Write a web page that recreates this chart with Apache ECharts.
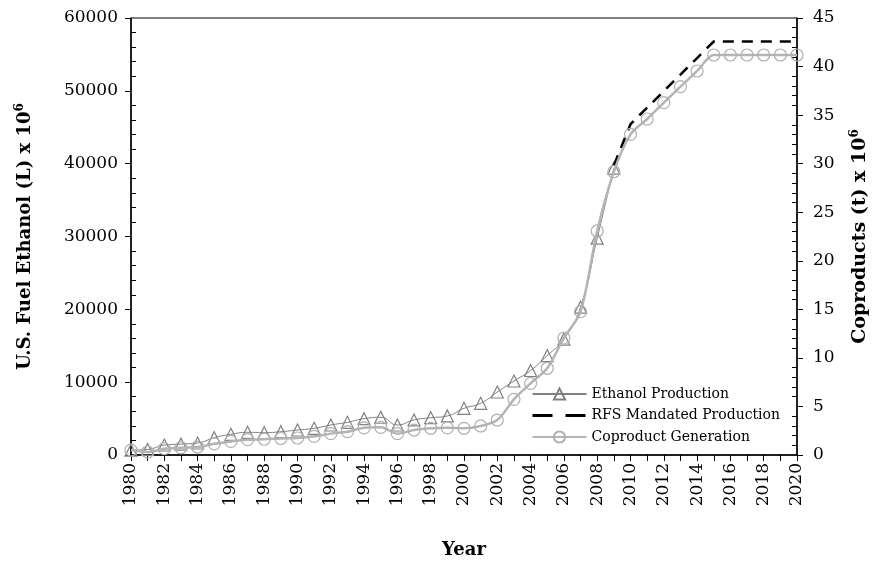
<!DOCTYPE html>
<html>
<head>
<meta charset="utf-8">
<script src="https://cdn.jsdelivr.net/npm/echarts@6/dist/echarts.min.js"></script>
<style>
  html, body { margin: 0; padding: 0; background: #fff; }
  #chart { width: 880px; height: 561px; }
</style>
</head>
<body>
<div id="chart"></div>
<script>
// U.S. fuel ethanol output (million litres) and coproducts (million tonnes)
const ethanolYears = [1980, 1981, 1982, 1983, 1984, 1985, 1986, 1987, 1988, 1989,
  1990, 1991, 1992, 1993, 1994, 1995, 1996, 1997, 1998, 1999,
  2000, 2001, 2002, 2003, 2004, 2005, 2006, 2007, 2008, 2009];
const ethanolProduction = [660, 760, 1370, 1500, 1650, 2380, 2840, 3120, 3060, 3200,
  3430, 3660, 4120, 4490, 4990, 5180, 4120, 4810, 5120, 5360,
  6410, 7100, 8650, 10160, 11600, 13650, 15900, 20300, 29770, 39380];

const rfsYears = [2009, 2010, 2011, 2012, 2013, 2014, 2015, 2016, 2017, 2018, 2019, 2020];
const rfsMandate = [39743, 45420, 47691, 49962, 52233, 54504, 56775, 56775, 56775, 56775, 56775, 56775];

const coproductYears = [1980, 1981, 1982, 1983, 1984, 1985, 1986, 1987, 1988, 1989,
  1990, 1991, 1992, 1993, 1994, 1995, 1996, 1997, 1998, 1999,
  2000, 2001, 2002, 2003, 2004, 2005, 2006, 2007, 2008, 2009,
  2010, 2011, 2012, 2013, 2014, 2015, 2016, 2017, 2018, 2019, 2020];
const coproductGeneration = [0.51, 0.31, 0.65, 0.75, 0.82, 1.15, 1.40, 1.58, 1.62, 1.70,
  1.75, 1.92, 2.20, 2.40, 2.80, 2.85, 2.20, 2.57, 2.75, 2.80,
  2.75, 2.99, 3.60, 5.73, 7.38, 8.93, 12.05, 14.76, 23.07, 29.17,
  33.02, 34.60, 36.28, 37.93, 39.54, 41.19, 41.19, 41.19, 41.19, 41.19, 41.19];

const seriesNames = ['Ethanol Production', 'RFS Mandated Production', 'Coproduct Generation'];

const FONT = 'DejaVu Serif';
const pairs = (xs, ys) => xs.map((x, i) => [x, ys[i]]);

const titleStyle = (size) => ({
  fontFamily: FONT, fontWeight: 'bold', fontSize: size, color: '#000',
  rich: {
    t: { fontFamily: FONT, fontWeight: 'bold', fontSize: size, color: '#000', lineHeight: 22 },
    s: { fontFamily: FONT, fontWeight: 'bold', fontSize: 12, color: '#000', lineHeight: 12, verticalAlign: 'top' }
  }
});
const tickText = { fontFamily: FONT, fontSize: 17, color: '#000' };
const blackLine = { color: '#000', width: 1 };
const clear = 'rgba(255,255,255,0)';

const chart = echarts.init(document.getElementById('chart'), null, { renderer: 'canvas' });

chart.setOption({
  animation: false,
  backgroundColor: '#fff',
  grid: {
    left: 131, right: 83, top: 18, bottom: 106,
    show: true, borderColor: '#000', borderWidth: 1, backgroundColor: 'transparent',
    outerBoundsMode: 'none', containLabel: false
  },
  legend: {
    orient: 'vertical', left: 531, top: 387, padding: 0,
    itemGap: 7.5, itemWidth: 54, itemHeight: 14,
    textStyle: { fontFamily: FONT, fontSize: 14, color: '#000' },
    data: [
      { name: seriesNames[0] },
      { name: seriesNames[1], itemStyle: { color: clear, borderWidth: 0 },
        lineStyle: { color: '#000', width: 3, type: [20, 13] } },
      { name: seriesNames[2] }
    ]
  },
  xAxis: {
    type: 'value', min: 1980, max: 2020, interval: 2,
    name: 'Year', nameLocation: 'middle', nameGap: 86,
    nameTextStyle: { fontFamily: FONT, fontWeight: 'bold', fontSize: 18, color: '#000' },
    axisLine: { show: true, lineStyle: { color: '#000', width: 1.5 } },
    axisTick: { show: true, length: 6, lineStyle: blackLine },
    minorTick: { show: true, splitNumber: 2, length: 6, lineStyle: blackLine },
    splitLine: { show: false },
    axisLabel: Object.assign({ rotate: 90, margin: 8, formatter: v => String(v) }, tickText)
  },
  yAxis: [
    {
      type: 'value', position: 'left', min: 0, max: 60000, interval: 10000,
      name: '{t|U.S. Fuel Ethanol (L) x 10}{s|6}', nameLocation: 'middle', nameGap: 95, nameRotate: 90,
      nameTextStyle: titleStyle(18),
      axisLine: { show: true, lineStyle: { color: '#000', width: 1.5 } },
      axisTick: { show: true, length: 6, lineStyle: blackLine },
      minorTick: { show: true, splitNumber: 5, length: -5, lineStyle: blackLine },
      splitLine: { show: false },
      axisLabel: Object.assign({ margin: 13, formatter: v => String(v) }, tickText)
    },
    {
      type: 'value', position: 'right', min: 0, max: 45, interval: 5,
      name: '{t|Coproducts (t) x 10}{s|6}', nameLocation: 'middle', nameGap: 52, nameRotate: 90,
      nameTextStyle: titleStyle(19),
      axisLine: { show: true, lineStyle: { color: '#000', width: 1.5 } },
      axisTick: { show: true, length: 6, lineStyle: blackLine },
      minorTick: { show: true, splitNumber: 5, length: -5, lineStyle: blackLine },
      splitLine: { show: false },
      axisLabel: Object.assign({ margin: 16, formatter: v => String(v) }, tickText)
    }
  ],
  series: [
    {
      name: seriesNames[0], type: 'line', yAxisIndex: 0,
      data: pairs(ethanolYears, ethanolProduction),
      smooth: 0.5, showSymbol: true, showAllSymbol: true,
      symbol: 'triangle', symbolSize: 12,
      lineStyle: { color: '#808080', width: 1 },
      itemStyle: { color: clear, borderColor: '#808080', borderWidth: 1.2 },
      emphasis: { disabled: true }, z: 2
    },
    {
      name: seriesNames[1], type: 'line', yAxisIndex: 0,
      data: pairs(rfsYears, rfsMandate),
      symbol: 'none',
      lineStyle: { color: '#000', width: 2.5, type: [11, 8] },
      itemStyle: { color: clear, borderWidth: 0 },
      emphasis: { disabled: true }, z: 3
    },
    {
      name: seriesNames[2], type: 'line', yAxisIndex: 1,
      data: pairs(coproductYears, coproductGeneration),
      smooth: 0.3, showSymbol: true, showAllSymbol: true,
      symbol: 'circle', symbolSize: 12,
      lineStyle: { color: '#b4b4b4', width: 2.5 },
      itemStyle: { color: clear, borderColor: '#b0b0b0', borderWidth: 1.2 },
      emphasis: { disabled: true }, z: 4
    }
  ]
});
</script>
</body>
</html>
